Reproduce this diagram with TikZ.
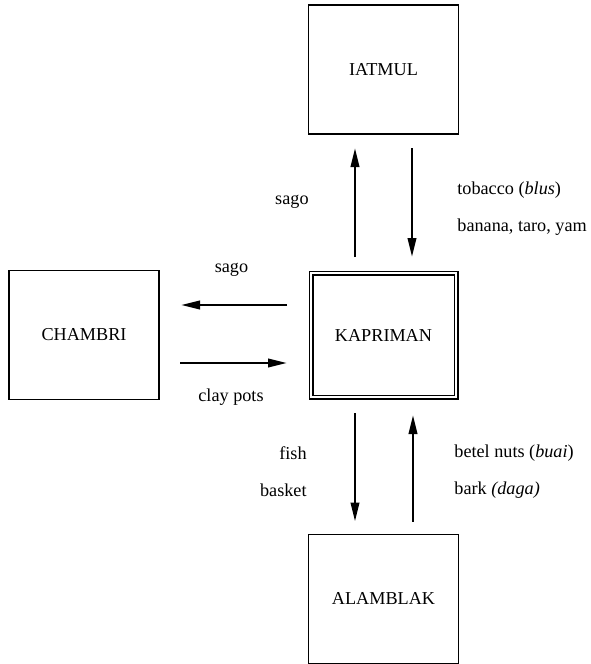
\documentclass[tikz,border=0pt]{standalone}
\usepackage{fontspec}
\setmainfont{Liberation Serif}
\usetikzlibrary{arrows.meta}

\begin{document}
\begin{tikzpicture}[x=0.5pt,y=-0.5pt,
    every node/.style={font=\fontsize{9.1}{11}\selectfont},
    tribe/.style={draw,line width=0.65pt,minimum width=75pt,minimum height=64.5pt,inner sep=0,outer sep=0},
    flow/.style={-{Triangle[length=9.5pt,width=4.2pt]},line width=1.2pt},
    goods/.style={inner sep=0}]
  \useasboundingbox (0,0) rectangle (590,664);

  % the four villages
  \node[tribe] (iatmul) at (383.5,69.5) {IATMUL};
  \node[tribe] (chambri) at (84,335) {CHAMBRI};
  \node[tribe,double,line width=0.6pt,double distance=1.3pt,minimum width=72.5pt,minimum height=62pt] (kapriman) at (383.5,335) {KAPRIMAN};
  \node[tribe] (alamblak) at (383.5,599) {ALAMBLAK};

  % the arrows between them
  \draw[flow,shorten <=8pt,shorten >=7pt] ([xshift=-14.25pt]kapriman.north) -- ([xshift=-14.25pt]iatmul.south);
  \draw[flow,shorten <=7pt,shorten >=8pt] ([xshift=14.25pt]iatmul.south) -- ([xshift=14.25pt]kapriman.north);
  \draw[flow,shorten <=12pt,shorten >=11pt] ([yshift=15pt]kapriman.west) -- ([yshift=15pt]chambri.east);
  \draw[flow,shorten <=10.5pt,shorten >=12pt] ([yshift=-14pt]chambri.east) -- ([yshift=-14pt]kapriman.west);
  \draw[flow,shorten <=8pt,shorten >=6.5pt] ([xshift=-14.25pt]kapriman.south) -- ([xshift=-14.25pt]alamblak.north);
  \draw[flow,shorten <=6.5pt,shorten >=9pt] ([xshift=14.75pt]alamblak.north) -- ([xshift=14.75pt]kapriman.south);

  % the goods
  \node[goods,anchor=east] (sagoup) at (309,202) {sago};
  \node[goods,anchor=west] (tobacco) at (457,190) {tobacco (\textit{blus})};
  \node[goods,anchor=west] (banana) at (457,227) {banana, taro, yam};
  \node[goods] (sagoleft) at (231.5,270) {sago};
  \node[goods] (claypots) at (231,397) {clay pots};
  \node[goods,anchor=east] (fish) at (307,453) {fish};
  \node[goods,anchor=east] (basket) at (307,490) {basket};
  \node[goods,anchor=west] (betel) at (454,453) {betel nuts (\textit{buai})};
  \node[goods,anchor=west] (bark) at (454,490) {bark \textit{(daga)}};
\end{tikzpicture}
\end{document}
